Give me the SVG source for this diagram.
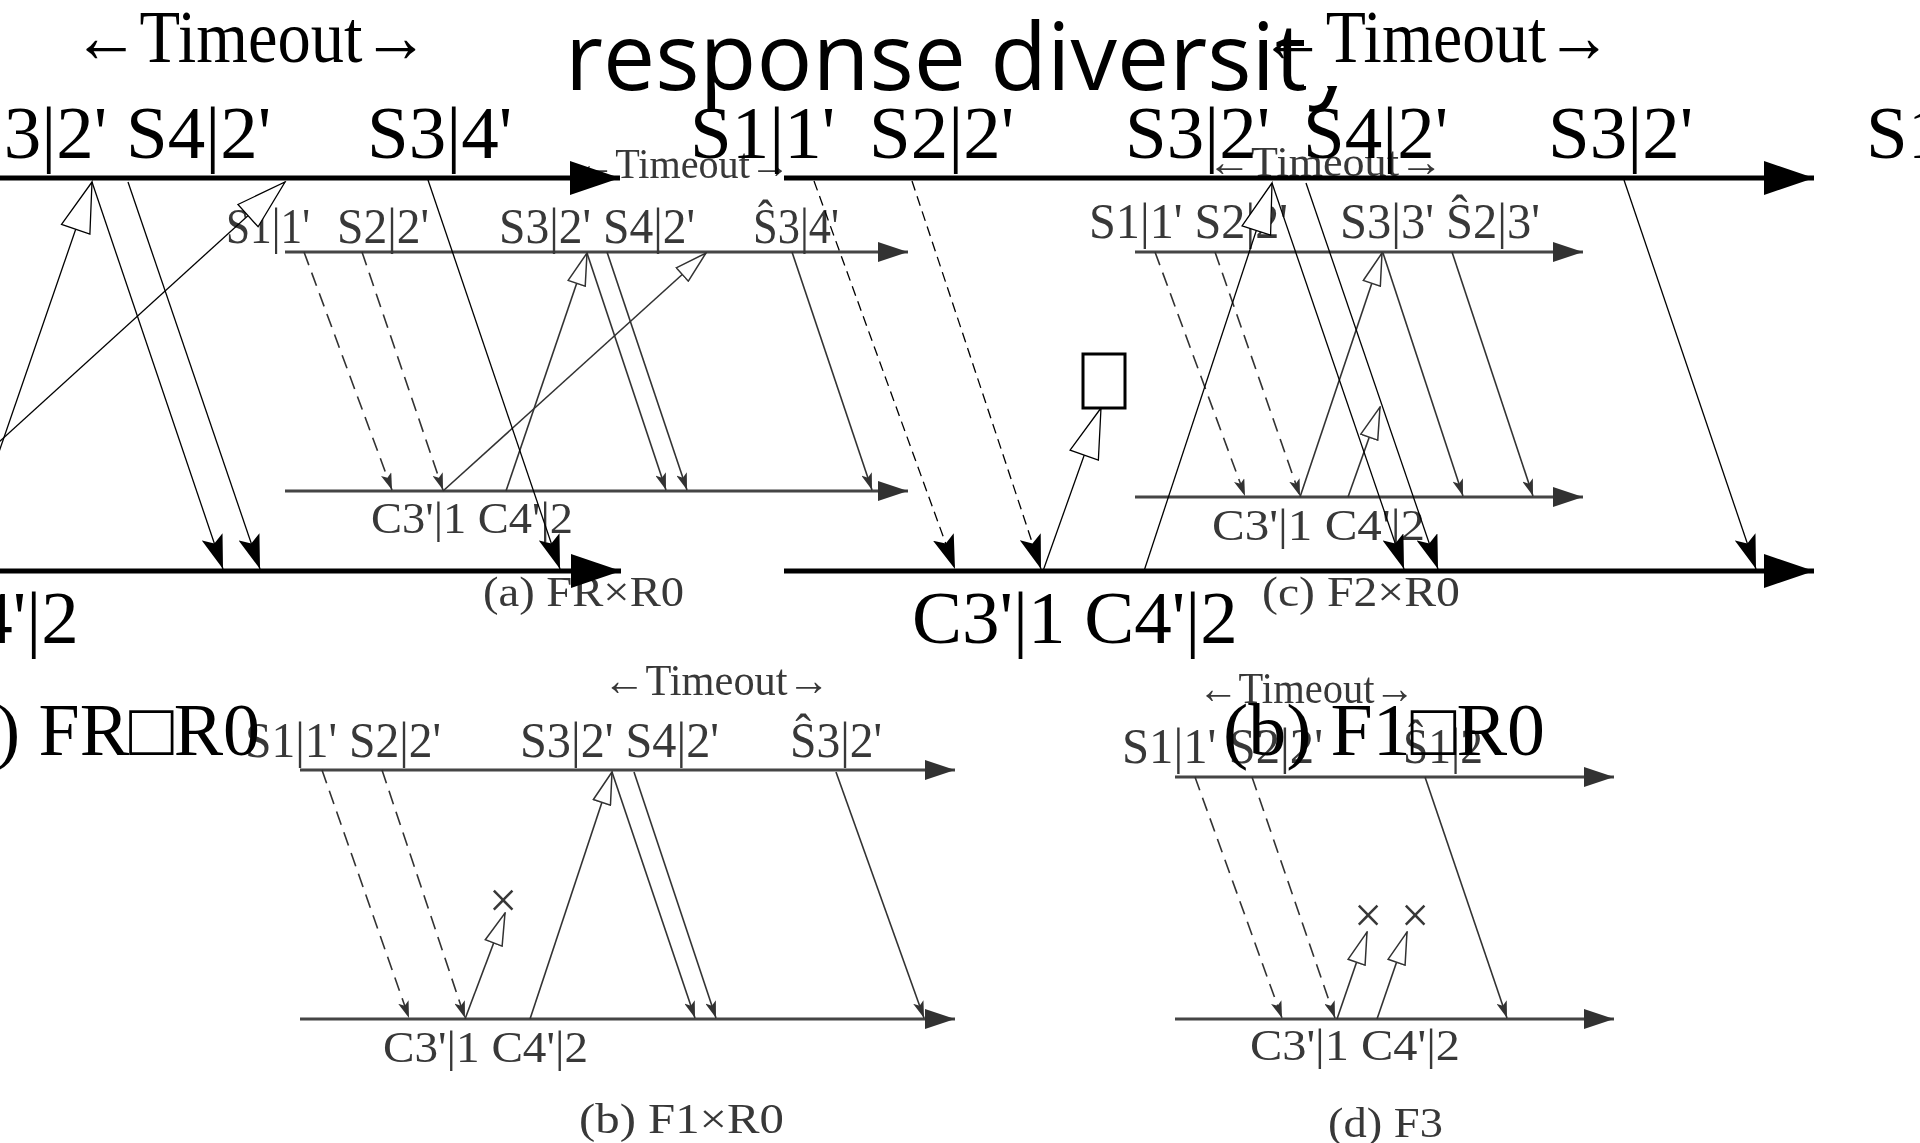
<svg xmlns="http://www.w3.org/2000/svg" width="1920" height="1143" viewBox="0 0 1920 1143">
<style>
.bg{fill:#fff}
.gax{stroke:#444;stroke-width:3;fill:none}
.gm{stroke:#333;stroke-width:1.6;fill:none}
.gd{stroke:#333;stroke-width:1.6;fill:none;stroke-dasharray:14 8}
.gt{font-family:"Liberation Serif","DejaVu Serif",serif;fill:#383838}
.bax{stroke:#000;stroke-width:5;fill:none}
.bm{stroke:#000;stroke-width:1.3;fill:none}
.bd{stroke:#000;stroke-width:1.3;fill:none;stroke-dasharray:10 6}
.bt{font-family:"Liberation Serif","DejaVu Serif",serif;fill:#000;font-size:75px}
.bs{font-family:"Open Sans","Noto Sans","DejaVu Sans",sans-serif;fill:#000;font-size:93px}
</style>
<defs>
<filter id="soft" x="-5%" y="-5%" width="110%" height="110%"><feGaussianBlur stdDeviation="0.6"/></filter>
<clipPath id="clipY"><rect x="0" y="0" width="1304" height="200"/><rect x="1304" y="86" width="200" height="60"/></clipPath>
<marker id="grAxis" viewBox="0 0 30 20" refX="30" refY="10" markerWidth="30" markerHeight="20" markerUnits="userSpaceOnUse" orient="auto"><path d="M0,0 L30,10 L0,20 Z" fill="#333"/></marker>
<marker id="grHead" viewBox="0 0 17 11" refX="17" refY="5.5" markerWidth="17" markerHeight="11" markerUnits="userSpaceOnUse" orient="auto"><path d="M0,0 L17,5.5 L0,11 L4,5.5 Z" fill="#333"/></marker>
<marker id="grOpen" viewBox="-1 -1 34 20" refX="32" refY="9" markerWidth="34" markerHeight="20" markerUnits="userSpaceOnUse" orient="auto"><path d="M0,0 L32,9 L0,18 Z" fill="#fff" stroke="#333" stroke-width="1.5"/></marker>
<marker id="bkAxis" viewBox="0 0 50 34" refX="50" refY="17" markerWidth="50" markerHeight="34" markerUnits="userSpaceOnUse" orient="auto"><path d="M0,0 L50,17 L0,34 Z" fill="#000"/></marker>
<marker id="bkHead" viewBox="0 0 34 22" refX="34" refY="11" markerWidth="34" markerHeight="22" markerUnits="userSpaceOnUse" orient="auto"><path d="M0,0 L34,11 L0,22 L7,11 Z" fill="#000"/></marker>
<marker id="bkOpen" viewBox="-2 -2 54 34" refX="50" refY="15" markerWidth="54" markerHeight="34" markerUnits="userSpaceOnUse" orient="auto"><path d="M0,0 L50,15 L0,30 Z" fill="#fff" stroke="#000" stroke-width="1.3"/></marker>
</defs>
<rect class="bg" x="0" y="0" width="1920" height="1143"/>

<g id="raster" filter="url(#soft)">
  <g id="panel-a">
    <line class="gax" x1="285" y1="252" x2="908" y2="252" marker-end="url(#grAxis)"/>
    <line class="gax" x1="285" y1="491" x2="908" y2="491" marker-end="url(#grAxis)"/>
    <text class="gt" x="575" y="178" font-size="42" textLength="215" lengthAdjust="spacingAndGlyphs">←Timeout→</text>
    <text class="gt" x="226" y="243" font-size="50" textLength="84" lengthAdjust="spacingAndGlyphs">S1|1'</text>
    <text class="gt" x="337" y="243" font-size="50" textLength="92" lengthAdjust="spacingAndGlyphs">S2|2'</text>
    <text class="gt" x="499" y="243" font-size="50" textLength="196" lengthAdjust="spacingAndGlyphs">S3|2' S4|2'</text>
    <text class="gt" x="753" y="243" font-size="50" textLength="86" lengthAdjust="spacingAndGlyphs">Ŝ3|4'</text>
    <text class="gt" x="371" y="533" font-size="44" textLength="202" lengthAdjust="spacingAndGlyphs">C3'|1 C4'|2</text>
    <text class="gt" x="483" y="606" font-size="42" textLength="201" lengthAdjust="spacingAndGlyphs">(a) FR×R0</text>
  </g>
  <g id="connectors-a">
    <line class="gd" x1="304" y1="252" x2="392" y2="490" marker-end="url(#grHead)"/>
    <line class="gd" x1="362" y1="252" x2="443" y2="490" marker-end="url(#grHead)"/>
    <line class="gm" x1="443" y1="491" x2="706" y2="253" marker-end="url(#grOpen)"/>
    <line class="gm" x1="506" y1="491" x2="587" y2="253" marker-end="url(#grOpen)"/>
    <line class="gm" x1="587" y1="253" x2="666" y2="490" marker-end="url(#grHead)"/>
    <line class="gm" x1="607" y1="252" x2="687" y2="490" marker-end="url(#grHead)"/>
    <line class="gm" x1="792" y1="252" x2="872" y2="490" marker-end="url(#grHead)"/>
  </g>

  <g id="panel-c">
    <line class="gax" x1="1135" y1="252" x2="1583" y2="252" marker-end="url(#grAxis)"/>
    <line class="gax" x1="1135" y1="497" x2="1583" y2="497" marker-end="url(#grAxis)"/>
    <text class="gt" x="1207" y="176" font-size="42" textLength="236" lengthAdjust="spacingAndGlyphs">←Timeout→</text>
    <text class="gt" x="1089" y="238" font-size="50" textLength="199" lengthAdjust="spacingAndGlyphs">S1|1' S2|2'</text>
    <text class="gt" x="1340" y="238" font-size="50" textLength="200" lengthAdjust="spacingAndGlyphs">S3|3' Ŝ2|3'</text>
    <text class="gt" x="1212" y="540" font-size="44" textLength="213" lengthAdjust="spacingAndGlyphs">C3'|1 C4'|2</text>
    <text class="gt" x="1262" y="606" font-size="42" textLength="198" lengthAdjust="spacingAndGlyphs">(c) F2×R0</text>
  </g>
  <g id="connectors-c">
    <line class="gd" x1="1155" y1="252" x2="1245" y2="496" marker-end="url(#grHead)"/>
    <line class="gd" x1="1215" y1="252" x2="1300" y2="496" marker-end="url(#grHead)"/>
    <line class="gm" x1="1300" y1="497" x2="1382" y2="253" marker-end="url(#grOpen)"/>
    <line class="gm" x1="1348" y1="497" x2="1380" y2="407" marker-end="url(#grOpen)"/>
    <line class="gm" x1="1383" y1="253" x2="1463" y2="496" marker-end="url(#grHead)"/>
    <line class="gm" x1="1452" y1="252" x2="1533" y2="496" marker-end="url(#grHead)"/>
  </g>

  <g id="panel-b">
    <line class="gax" x1="300" y1="770" x2="955" y2="770" marker-end="url(#grAxis)"/>
    <line class="gax" x1="300" y1="1019" x2="955" y2="1019" marker-end="url(#grAxis)"/>
    <text class="gt" x="603" y="695" font-size="44" textLength="227" lengthAdjust="spacingAndGlyphs">←Timeout→</text>
    <text class="gt" x="245" y="757" font-size="50" textLength="196" lengthAdjust="spacingAndGlyphs">S1|1' S2|2'</text>
    <text class="gt" x="520" y="757" font-size="50" textLength="199" lengthAdjust="spacingAndGlyphs">S3|2' S4|2'</text>
    <text class="gt" x="790" y="757" font-size="50" textLength="92" lengthAdjust="spacingAndGlyphs">Ŝ3|2'</text>
    <text class="gt" x="383" y="1062" font-size="44" textLength="205" lengthAdjust="spacingAndGlyphs">C3'|1 C4'|2</text>
    <text class="gt" x="579" y="1133" font-size="42" textLength="205" lengthAdjust="spacingAndGlyphs">(b) F1×R0</text>
    <text class="gt" x="503" y="917" font-size="50" text-anchor="middle">×</text>
  </g>
  <g id="connectors-b">
    <line class="gd" x1="322" y1="770" x2="409" y2="1018" marker-end="url(#grHead)"/>
    <line class="gd" x1="382" y1="770" x2="465" y2="1018" marker-end="url(#grHead)"/>
    <line class="gm" x1="465" y1="1019" x2="505" y2="913" marker-end="url(#grOpen)"/>
    <line class="gm" x1="530" y1="1019" x2="612" y2="772" marker-end="url(#grOpen)"/>
    <line class="gm" x1="612" y1="772" x2="695" y2="1018" marker-end="url(#grHead)"/>
    <line class="gm" x1="634" y1="772" x2="716" y2="1018" marker-end="url(#grHead)"/>
    <line class="gm" x1="836" y1="772" x2="924" y2="1018" marker-end="url(#grHead)"/>
  </g>

  <g id="panel-d">
    <line class="gax" x1="1175" y1="777" x2="1614" y2="777" marker-end="url(#grAxis)"/>
    <line class="gax" x1="1175" y1="1019" x2="1614" y2="1019" marker-end="url(#grAxis)"/>
    <text class="gt" x="1198" y="703" font-size="44" textLength="217" lengthAdjust="spacingAndGlyphs">←Timeout→</text>
    <text class="gt" x="1122" y="763" font-size="50" textLength="201" lengthAdjust="spacingAndGlyphs">S1|1' S2|2'</text>
    <text class="gt" x="1403" y="763" font-size="50" textLength="80" lengthAdjust="spacingAndGlyphs">Ŝ1|2</text>
    <text class="gt" x="1250" y="1060" font-size="44" textLength="210" lengthAdjust="spacingAndGlyphs">C3'|1 C4'|2</text>
    <text class="gt" x="1328" y="1137" font-size="42" textLength="115" lengthAdjust="spacingAndGlyphs">(d) F3</text>
    <text class="gt" x="1368" y="932" font-size="50" text-anchor="middle">×</text>
    <text class="gt" x="1415" y="932" font-size="50" text-anchor="middle">×</text>
  </g>
  <g id="connectors-d">
    <line class="gd" x1="1195" y1="777" x2="1282" y2="1018" marker-end="url(#grHead)"/>
    <line class="gd" x1="1252" y1="777" x2="1335" y2="1018" marker-end="url(#grHead)"/>
    <line class="gm" x1="1337" y1="1019" x2="1367" y2="932" marker-end="url(#grOpen)"/>
    <line class="gm" x1="1377" y1="1019" x2="1407" y2="932" marker-end="url(#grOpen)"/>
    <line class="gm" x1="1425" y1="777" x2="1507" y2="1018" marker-end="url(#grHead)"/>
  </g>
</g>

<g id="overlay">
  <g id="overlay-text">
    <text class="bs" x="565" y="90" clip-path="url(#clipY)">response diversity</text>
    <text class="bt" x="73" y="62" font-size="76" textLength="356" lengthAdjust="spacingAndGlyphs">←Timeout→</text>
    <text class="bt" x="1260" y="62" font-size="76" textLength="352" lengthAdjust="spacingAndGlyphs">←Timeout→</text>
    <text class="bt" x="-38" y="158">S3|2' S4|2'</text>
    <text class="bt" x="367" y="158">S3|4'</text>
    <text class="bt" x="690" y="158">S1|1'</text>
    <text class="bt" x="869" y="158">S2|2'</text>
    <text class="bt" x="1125" y="158">S3|2'</text>
    <text class="bt" x="1303" y="158">S4|2'</text>
    <text class="bt" x="1548" y="158">S3|2'</text>
    <text class="bt" x="1866" y="158">S1|1' S2|2'</text>
    <text class="bt" x="-247" y="643">C3'|1 C4'|2</text>
    <text class="bt" x="912" y="643">C3'|1 C4'|2</text>
    <text class="bt" x="-62" y="755" textLength="322" lengthAdjust="spacingAndGlyphs">(a) FR□R0</text>
    <text class="bt" x="1223" y="755" textLength="322" lengthAdjust="spacingAndGlyphs">(b) F1□R0</text>
  </g>
  <g id="overlay-axes">
    <line class="bax" x1="0" y1="178" x2="620" y2="178" marker-end="url(#bkAxis)"/>
    <line class="bax" x1="784" y1="178" x2="1814" y2="178" marker-end="url(#bkAxis)"/>
    <line class="bax" x1="0" y1="571" x2="621" y2="571" marker-end="url(#bkAxis)"/>
    <line class="bax" x1="784" y1="571" x2="1814" y2="571" marker-end="url(#bkAxis)"/>
  </g>
  <g id="overlay-connectors">
    <line class="bm" x1="92" y1="182" x2="223" y2="569" marker-end="url(#bkHead)"/>
    <line class="bm" x1="128" y1="182" x2="260" y2="569" marker-end="url(#bkHead)"/>
    <line class="bm" x1="428" y1="180" x2="560" y2="569" marker-end="url(#bkHead)"/>
    <line class="bm" x1="-42" y1="571" x2="92" y2="182" marker-end="url(#bkOpen)"/>
    <line class="bm" x1="-143" y1="571" x2="285" y2="182" marker-end="url(#bkOpen)"/>
    <line class="bd" x1="814" y1="181" x2="955" y2="569" marker-end="url(#bkHead)"/>
    <line class="bd" x1="912" y1="181" x2="1041" y2="569" marker-end="url(#bkHead)"/>
    <line class="bm" x1="1043" y1="571" x2="1101" y2="408" marker-end="url(#bkOpen)"/>
    <line class="bm" x1="1272" y1="183" x2="1404" y2="569" marker-end="url(#bkHead)"/>
    <line class="bm" x1="1306" y1="183" x2="1438" y2="569" marker-end="url(#bkHead)"/>
    <line class="bm" x1="1144" y1="571" x2="1272" y2="183" marker-end="url(#bkOpen)"/>
    <line class="bm" x1="1624" y1="180" x2="1756" y2="569" marker-end="url(#bkHead)"/>
  </g>
  <g id="drop-box">
    <rect x="1083" y="354" width="42" height="54" fill="#fff" stroke="#000" stroke-width="3"/>
  </g>
</g>
</svg>
